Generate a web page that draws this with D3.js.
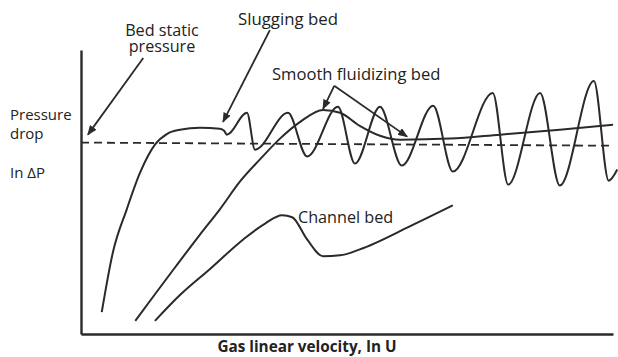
<!DOCTYPE html>
<html>
<head>
<meta charset="utf-8">
<script src="https://cdn.jsdelivr.net/npm/d3@7"></script>
<style>
  html, body { margin: 0; padding: 0; background: #fff; }
  svg { display: block; }
  text { font-family: "Open Sans", "Noto Sans", sans-serif; fill: #222; }
</style>
</head>
<body>
<svg id="chart" width="618" height="357"></svg>
<script>
// Pressure drop (ln ΔP) versus gas velocity (ln U) for different bed regimes.
// Both axes are in arbitrary relative units (0–100).

// Slugging bed: rises, plateaus, then oscillates with growing amplitude
const sluggingU  = [3.9, 6.0, 8.6, 11.1, 13.9, 16.2, 18.6, 22.4, 26.1, 26.9, 27.4, 31.2, 32.7, 38.9, 42.5, 48.3, 51.5, 56.2, 60.3, 66.2, 69.9, 77.4, 80.3, 86.3, 90.0, 96.4, 99.2, 100.8];
const sluggingDP = [7.7, 28.8, 43.9, 56.8, 66.7, 70.5, 71.9, 72.6, 72.3, 71.6, 70.2, 77.9, 64.9, 77.9, 62.5, 80.0, 60.0, 80.0, 59.3, 80.4, 57.2, 84.9, 52.6, 84.9, 52.3, 89.1, 54.0, 57.9];

// Smooth fluidizing bed: overshoots, then settles just above static pressure
const smoothU  = [10.2, 13.9, 17.7, 22.4, 26.1, 29.9, 33.6, 37.4, 41.2, 45.5, 48.7, 52.4, 56.2, 60.0, 69.4, 78.8, 90.0, 100];
const smoothDP = [4.6, 14.0, 23.5, 35.1, 43.9, 53.7, 61.4, 68.8, 74.7, 78.9, 77.9, 73.3, 69.8, 68.4, 68.8, 70.2, 71.9, 73.7];

// Channel bed: hump, drop, then slow rise below static pressure
const channelU  = [13.9, 18.6, 24.2, 30.5, 34.6, 37.8, 39.7, 42.5, 45.5, 48.7, 52.4, 61.8, 69.9];
const channelDP = [4.6, 13.7, 22.8, 33.3, 38.9, 41.8, 41.1, 33.3, 27.4, 27.7, 29.8, 37.9, 45.3];

// Bed static pressure reference (dashed)
const staticU  = [0, 100];
const staticDP = [67.4, 66.3];

// Text labels
const yLabelLines = ["Pressure", "drop", "In \u0394P"];
const xLabel = "Gas linear velocity, In U";
const staticLabel = ["Bed static", "pressure"];
const sluggingLabel = "Slugging bed";
const smoothLabel = "Smooth fluidizing bed";
const channelLabel = "Channel bed";

// Arrow callouts in data units: [fromU, fromDP, toU, toDP]
const staticArrow   = [11.7, 97.2, 1.3, 70.2];
const sluggingArrow = [35.5, 107.0, 26.7, 74.7];
const smoothArrows  = [[47.6, 87.4, 45.5, 79.3], [47.6, 87.4, 61.3, 69.5]];

const ink = "#2a2a2a";
const svg = d3.select("#chart");

const x = d3.scaleLinear().domain([0, 100]).range([81, 613]);
const y = d3.scaleLinear().domain([0, 100]).range([334, 50]);

// arrowhead marker
svg.append("defs").append("marker")
  .attr("id", "head")
  .attr("viewBox", "0 0 10 8")
  .attr("refX", 9).attr("refY", 4)
  .attr("markerWidth", 10).attr("markerHeight", 8)
  .attr("markerUnits", "userSpaceOnUse")
  .attr("orient", "auto")
  .append("path").attr("d", "M0,0 L10,4 L0,8 Z").attr("fill", ink);

// axes without ticks
const yAxis = svg.append("g").attr("transform", `translate(${x(0)},0)`)
  .call(d3.axisLeft(y).ticks(0).tickSizeOuter(0));
const xAxis = svg.append("g").attr("transform", `translate(0,${y(0)})`)
  .call(d3.axisBottom(x).ticks(0).tickSizeOuter(0));
[yAxis, xAxis].forEach(g => g.select(".domain").attr("stroke", ink).attr("stroke-width", 2.4));

const zip = (a, b) => a.map((v, i) => [v, b[i]]);
const line = d3.line().x(d => x(d[0])).y(d => y(d[1])).curve(d3.curveMonotoneX);

// static pressure dashed line
svg.append("path")
  .datum(zip(staticU, staticDP))
  .attr("d", d3.line().x(d => x(d[0])).y(d => y(d[1])))
  .attr("fill", "none").attr("stroke", ink)
  .attr("stroke-width", 1.8).attr("stroke-dasharray", "8,5");

// regime curves
[[sluggingU, sluggingDP], [smoothU, smoothDP], [channelU, channelDP]].forEach(([u, p]) => {
  svg.append("path")
    .datum(zip(u, p))
    .attr("d", line)
    .attr("fill", "none").attr("stroke", ink)
    .attr("stroke-width", 2).attr("stroke-linejoin", "round");
});

// callout arrows
[staticArrow, sluggingArrow, ...smoothArrows].forEach(a => {
  svg.append("line")
    .attr("x1", x(a[0])).attr("y1", y(a[1]))
    .attr("x2", x(a[2])).attr("y2", y(a[3]))
    .attr("stroke", ink).attr("stroke-width", 1.8)
    .attr("marker-end", "url(#head)");
});

// y-axis title
yLabelLines.forEach((t, i) => {
  svg.append("text").attr("x", 10).attr("y", [120, 139, 178][i])
    .attr("font-size", 15).text(t);
});

// x-axis title
svg.append("text").attr("x", 307).attr("y", 352)
  .attr("text-anchor", "middle").attr("font-size", 15.3).attr("font-weight", "bold")
  .text(xLabel);

// regime labels
const staticText = svg.append("text").attr("text-anchor", "middle").attr("font-size", 16.2);
staticLabel.forEach((t, i) => {
  staticText.append("tspan").attr("x", 162).attr("y", 36 + i * 16).text(t);
});
svg.append("text").attr("x", 238).attr("y", 25).attr("font-size", 16.8).text(sluggingLabel);
svg.append("text").attr("x", 272).attr("y", 80).attr("font-size", 16.6).text(smoothLabel);
svg.append("text").attr("x", 298).attr("y", 223).attr("font-size", 16.2).text(channelLabel);
</script>
</body>
</html>
